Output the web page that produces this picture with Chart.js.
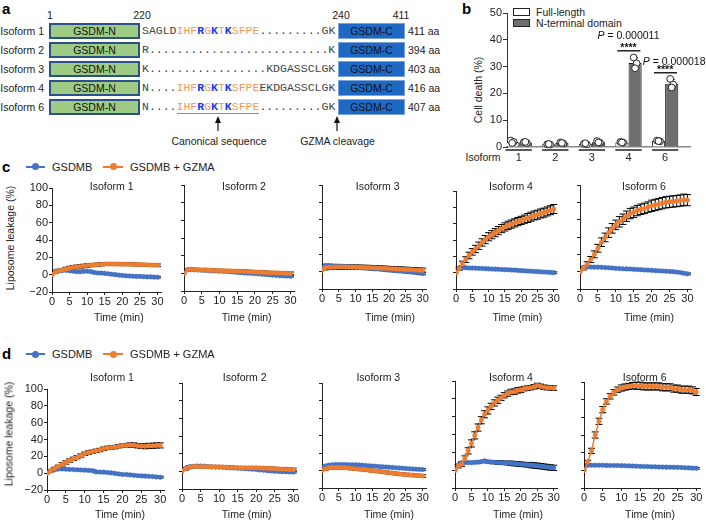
<!DOCTYPE html>
<html>
<head>
<meta charset="utf-8">
<script src="https://cdn.jsdelivr.net/npm/chart.js@4.4.1/dist/chart.umd.min.js"></script>
<style>
  html,body{margin:0;padding:0;background:#fff;}
  body{position:relative;width:706px;height:521px;overflow:hidden;font-family:'Liberation Sans',Arial,Helvetica,sans-serif;font-size:10.5px;color:#222;}
  .t{position:absolute;white-space:nowrap;line-height:13px;}
  canvas{position:absolute;}
  .box{position:absolute;box-sizing:border-box;display:flex;align-items:center;justify-content:center;font-size:10.5px;color:#111;}
  .seq{position:absolute;font-family:'Liberation Mono','DejaVu Sans Mono',monospace;font-size:11.5px;color:#444;white-space:pre;line-height:16px;}
  .mo{color:#F29A55;}
  .mb{color:#1B3BF0;font-weight:bold;}
  .lgl{position:absolute;height:2px;}
  .lgd{position:absolute;width:7px;height:7px;border-radius:50%;}
</style>
</head>
<body>
<script>
// ================= DATA =================
// Panel a: sequence schematic
const seqIsoforms = ['Isoform 1', 'Isoform 2', 'Isoform 3', 'Isoform 4', 'Isoform 6'];
const seqLinkers = [
  'SAGLDIHFRGKTKSFPE.........GK',
  'R..........................K',
  'K.................KDGASSCLGK',
  'N....IHFRGKTKSFPEEKDGASSCLGK',
  'N....IHFRGKTKSFPE.........GK'
];
const seqLengths = ['411 aa', '394 aa', '403 aa', '416 aa', '407 aa'];
const domainPositions = ['1', '220', '240', '411'];
const motif = 'IHFRGKTKSFPE';

// Panel b: cell death (%)
const barIsoforms = ['1', '2', '3', '4', '6'];
const barPos = [1, 2, 3, 4, 5];
const fullLength = [1.9, 1.0, 1.2, 1.7, 2.2];
const nTerminal = [1.7, 1.5, 1.8, 31.3, 23.6];
const fullLengthSd = [0.4, 0.2, 0.2, 0.3, 0.3];
const nTerminalSd = [0.3, 0.3, 0.4, 2.0, 1.6];
const fullLengthReps = [[2.4, 1.9, 1.5], [1.0, 0.9, 1.1], [1.2, 1.0, 1.4], [1.9, 1.6, 1.7], [2.4, 2.1, 2.2]];
const nTerminalReps = [[1.8, 1.5, 1.9], [1.7, 1.3, 1.5], [2.2, 1.6, 1.7], [33.4, 31.2, 29.4], [25.4, 23.3, 22.2]];
const sigGroups = [3, 4];
const sigLineY = [35.9, 27.7];
const sigStars = ['****', '****'];
const pValues = ['0.000011', '0.000018'];

// Panels c, d: liposome leakage (%) over time
const times = [0,1,2,3,4,5,6,7,8,9,10,11,12,13,14,15,16,17,18,19,20,21,22,23,24,25,26,27,28,29,30];
const timeTicks = [0, 5, 10, 15, 20, 25, 30];
const leakageTicks = [-20, 0, 20, 40, 60, 80, 100];
const panelIsoforms = ['Isoform 1', 'Isoform 2', 'Isoform 3', 'Isoform 4', 'Isoform 6'];
const seriesNames = ['GSDMB', 'GSDMB + GZMA'];

const cGsdmb = [
  [0,4,5,5,5,4.5,4,3.5,3.5,3.8,4,3.5,2.5,2,1.8,1.5,1,0.5,0,-0.5,-1,-1.2,-1.5,-1.8,-2,-2,-2.3,-2.5,-2.5,-2.8,-3],
  [0,4,4.2,4,3.8,3.5,3.3,3,2.8,2.6,2.5,2.3,2,1.8,1.5,1,0.8,0.5,0.2,0,-0.3,-0.6,-1,-1.3,-1.6,-2,-2.3,-2.6,-2.8,-3,-3.2],
  [5,7,7,6.8,6.6,6.5,6.3,6,5.8,5.5,5.2,5,4.6,4.3,4,3.6,3.2,3,2.6,2.2,1.8,1.5,1.2,0.8,0.5,0.2,-0.2,-0.6,-1,-1.5,-2],
  [0,6,6.2,6,5.8,5.6,5.5,5.3,5.1,4.9,4.7,4.5,4.3,4.1,3.9,3.7,3.5,3.3,3.1,2.8,2.5,2.3,2,1.8,1.5,1.3,1,0.8,0.5,0.3,0],
  [0,5,5.3,5.3,5.2,5.2,5,4.8,4.5,4.2,3.8,3.6,3.4,3.2,3,2.7,2.5,2.3,2,1.8,1.5,1.2,1,0.8,0.5,0.3,0,-0.5,-1,-1.8,-2.5]
];
const cGzma = [
  [0,3,4.5,5.5,6.5,7.5,8.5,9,9.5,10,10.5,11,11.2,11.5,12,12.2,12.3,12.3,12.2,12.2,12,12,12,11.8,11.8,11.6,11.5,11.4,11.2,11,10.8],
  [0,4,4.5,4.2,4,3.8,4,3.6,3.4,3.2,3,3,2.8,2.8,2.6,2.5,2.3,2.2,2,1.8,1.5,1.4,1.2,1,0.8,0.6,0.5,0.3,0.2,0,0],
  [1.5,4.5,5,5,5.2,5.3,5.3,5.3,5.2,5.2,5.2,5,5,4.8,4.8,4.6,4.4,4.2,4,3.8,3.6,3.4,3.2,3,2.8,2.6,2.4,2.2,2,1.8,1.6],
  [0,5,11,16,21,25.5,29,33,37,40.5,44,46.5,49,51.5,54,56,58,59.5,61,62.5,64,65.5,67,68.5,70,71,72.5,73.5,75,76.5,78],
  [0,4,8.5,14,20,27,34,39.5,45,50,54,57.5,60.5,64,67,68.5,70.5,72,73,74.5,76,77,78,79,80,80.5,81,81.5,82,83,82.5]
];
const cGsdmbSd = [
  [0,1,1,1,1,1,1,1,1,1,1,1,1,1,1,1,1,1,1,1,1,1,1,1,1,1,1,1,1,1,1],
  [0,1,1,1,1,1,1,1,1,1,1,1,1,1,1,1,1,1,1,1,1,1,1,1,1,1,1,1,1,1,1],
  [0,1.5,1.5,1.5,1.5,1.5,1.5,1.5,1.5,1.5,1.5,1.5,1.5,1.5,1.5,1.5,1.5,1.5,1.5,1.5,1.5,1.5,1.5,1.5,1.5,1.5,1.5,1.5,1.5,1.5,1.5],
  [0,1,1,1,1,1,1,1,1,1,1,1,1,1,1,1,1,1,1,1,1,1,1,1,1,1,1,1,1,1,1],
  [0,1,1,1,1,1,1,1,1,1,1,1,1,1,1,1,1,1,1,1,1,1,1,1,1,1,1,1,1,1,1]
];
const cGzmaSd = [
  [0,1,1.5,1.5,2,2,2,2,2,2,2,1.8,1.8,1.8,1.8,1.5,1.5,1.5,1.5,1.5,1.5,1.5,1.5,1.5,1.5,1.5,1.5,1.5,1.5,1.5,1.5],
  [0,1.5,1.5,1.5,1.5,1.5,1.5,1.5,1.5,1.5,1.5,1.5,1.5,1.5,1.5,1.5,1.5,1.5,1.5,1.5,1.5,1.5,1.5,1.5,1.5,1.5,1.5,1.5,1.5,1.5,1.5],
  [0,2.5,2.5,2.5,2.5,2.5,2.5,2.5,2.5,2.5,2.5,2.5,2.5,2.5,2.5,2.5,2.5,2.5,2.5,2.5,2.5,2.5,2.5,2.5,2.5,2.5,2.5,2.5,2.5,2.5,2.5],
  [0,2,3,3.5,4,4,4.5,4.5,4.5,5,5,5,5,5,5,5,5,5,5,5,5,5,5.5,5.5,5.5,5.5,5.5,5.5,5.5,5.5,5.5],
  [0,2,3,3.5,4,4.5,5,5,5.5,5.5,5.5,6,6,6,6,6,6,6,6,6,6.5,6.5,6.5,6.5,6.5,6.5,6.5,6.5,6.5,6.5,6.5]
];

const dGsdmb = [
  [0,2.5,4,5,5,4.8,4.5,4.3,4,3.8,3.6,3.3,3,1.5,1.3,1.2,0.8,0.3,-0.3,-1,-1.6,-1.5,-2,-2.5,-3,-3.2,-3.5,-3.8,-4,-4.5,-4.8],
  [1,3,5,5.5,6,6,5.8,5.5,5.2,5,4.8,4.5,4.2,4,3.8,3.5,3.2,3,2.7,2.4,2,1.6,1.2,0.8,0.4,0,-0.2,-0.4,-0.5,-0.7,-0.8],
  [3,5,6,6.5,6.8,6.8,6.8,6.7,6.6,6.5,6.5,6.3,6,5.7,5.3,5,4.8,4.5,4.2,4,3.8,3.5,3.2,2.9,2.6,2.3,2,1.8,1.5,1.3,1.1],
  [0,5.5,8,8.5,8.5,8.5,8.7,9,9.5,10.4,9.5,9,8.8,8.6,8.4,8.2,8,7.7,7.3,7,6.7,6.3,6,5.7,5.3,4.9,4.5,4,3.5,3,2.6],
  [0,5.7,5.7,5.7,5.7,5.7,5.6,5.5,5.5,5.4,5.3,5.2,5,4.9,4.7,4.5,4.4,4.3,4.1,4,3.8,3.7,3.6,3.5,3.4,3.4,3.2,3,2.8,2.5,2.3]
];
const dGzma = [
  [0,3,5.5,8,10.5,12.7,15,17,19,21,23,24.5,25.5,26.5,27.5,29,30,30.5,31,32,32.7,33,33.5,33.5,32.5,32,32,32.5,32.5,33,33],
  [0.5,3,4.5,5.5,5.5,5.5,5.3,5.2,5,5,5,4.8,4.6,4.4,4.2,4,4,4,4,4,4,3.8,3.6,3.4,3.2,3,2.8,2.6,2.4,2.2,2],
  [0,2,3,3.3,3.5,3.5,3.3,3,2.7,2.3,1.8,1.5,1.2,0.8,0.3,-0.2,-0.6,-1,-1.5,-2,-2.5,-3,-3.5,-4,-4.3,-4.7,-5,-5.3,-5.6,-5.9,-6.2],
  [0,4.5,6.7,13,21.6,30,39,47.8,56,62.7,67,71.6,75.4,78.4,81,84,85.8,87.7,88,89.5,90,91.4,92,92.5,93.5,95,94,93,92.5,92.5,92],
  [0,9.4,22,40,55.5,68.7,78,83.8,88.3,91.3,93.2,94.3,95,95.8,95.8,95.8,95,95,95,95,95,94,94,94,92.5,92.5,91.3,91.3,91.3,90.5,88.7]
];
const dGsdmbSd = [
  [0,1,1,1,1,1,1,1,1,1,1,1,1,1,1,1,1,1,1,1,1,1,1,1,1,1,1,1,1,1,1],
  [0,1,1,1,1,1,1,1,1,1,1,1,1,1,1,1,1,1,1,1,1,1,1,1,1,1,1,1,1,1,1],
  [0,1,1,1,1,1,1,1,1,1,1,1,1,1,1,1,1,1,1,1,1,1,1,1,1,1,1,1,1,1,1],
  [0,1,1,1,1,1,1,1,1,1,1.5,1.5,1.5,2,2,2,2,2.5,2.5,2.5,2.5,2.5,2.5,3,3,3,3,3,3,3,3],
  [0,1,1,1,1,1,1,1,1,1,1,1,1,1,1,1,1,1,1,1,1,1,1,1,1,1,1,1,1,1,1]
];
const dGzmaSd = [
  [0,1,1.5,1.5,2,2,2,2,2,2,2,2,2,2,2,2,2,2,2,2,2,2,2.5,2.5,2.5,2.5,3,3,3,3,3],
  [0,1.5,1.5,1.5,1.5,1.5,1.5,1.5,1.5,1.5,1.5,1.5,1.5,1.5,1.5,1.5,1.5,1.5,1.5,1.5,1.5,1.5,1.5,1.5,1.5,1.5,1.5,1.5,1.5,1.5,1.5],
  [0,1.5,1.5,1.5,1.5,1.5,1.5,1.5,1.5,1.5,1.5,1.5,1.5,1.5,1.5,1.5,1.5,1.5,1.5,1.5,1.5,1.5,1.5,1.5,1.5,1.5,1.5,1.5,1.5,1.5,1.5],
  [0,2,2.5,3,3.5,4,4,4,4,4,4,3.5,3.5,3.5,3,3,3,3,3,3,3,2.5,2.5,2.5,2.5,2.5,2.5,2.5,2.5,2.5,2.5],
  [0,2,3,3.5,3.5,3.5,3,3,3,3,3.5,3.5,3.5,3.5,4,4,4,4,4,4,4,4,4,4,4,4,4,4,4,4,4]
];

// ================= LAYOUT / STYLE =================
const BLUE = '#4472C4', ORANGE = '#ED7D31';
const FONT = "'Liberation Sans', Arial, Helvetica, sans-serif";
Chart.defaults.font.family = FONT;
Chart.defaults.font.size = 11;
Chart.defaults.color = '#222';

function addText(str, x, y, align, opts) {
  opts = opts || {};
  const d = document.createElement('div');
  d.className = 't';
  if (opts.html) d.innerHTML = str; else d.textContent = str;
  d.style.left = x + 'px';
  d.style.top = y + 'px';
  if (opts.size) d.style.fontSize = opts.size + 'px';
  if (opts.bold) d.style.fontWeight = 'bold';
  if (opts.color) d.style.color = opts.color;
  const tx = align === 'left' ? '0' : (align === 'right' ? '-100%' : '-50%');
  d.style.transform = 'translate(' + tx + ',-50%)' + (opts.rotate ? ' rotate(-90deg)' : '');
  document.body.appendChild(d);
  return d;
}
function addDiv(cls, css) {
  const d = document.createElement('div');
  d.className = cls;
  Object.assign(d.style, css);
  document.body.appendChild(d);
  return d;
}

// ---------- Panel a ----------
addText('a', 2, 8, 'left', {size: 15, bold: true, color: '#000'});
const domainPosX = [50, 142, 341, 401];
domainPositions.forEach((p, i) => addText(p, domainPosX[i], 15, 'center'));

function seqHtml(s) {
  const k = s.indexOf(motif);
  if (k < 0) return s;
  let h = s.slice(0, k);
  for (const ch of motif) {
    h += (ch === 'R' || ch === 'K') ? '<span class="mb">' + ch + '</span>' : '<span class="mo">' + ch + '</span>';
  }
  return h + s.slice(k + motif.length);
}
seqIsoforms.forEach((name, i) => {
  const cy = 31 + i * 19.1;
  addText(name, 44, cy, 'right');
  const g = addDiv('box', {left: '49px', top: (cy - 8) + 'px', width: '91px', height: '16px',
    background: '#9DCB84', border: '2px solid #2C4F8E'});
  g.textContent = 'GSDM-N';
  const s = addDiv('seq', {left: '142px', top: (cy - 8) + 'px'});
  s.innerHTML = seqHtml(seqLinkers[i]);
  const b = addDiv('box', {left: '338px', top: (cy - 8) + 'px', width: '67px', height: '16px',
    background: '#1E69C3', border: '1px solid #7BA3D9'});
  b.textContent = 'GSDM-C';
  addText(seqLengths[i], 408, cy, 'left');
});
addDiv('x', {position: 'absolute', left: '177px', top: '112.5px', width: '82px', height: '1.8px', background: '#8a8a8a'});
(function () {
  const ns = 'http://www.w3.org/2000/svg';
  const svg = document.createElementNS(ns, 'svg');
  svg.setAttribute('width', '460'); svg.setAttribute('height', '135');
  svg.style.position = 'absolute'; svg.style.left = '0'; svg.style.top = '0';
  [218, 337].forEach(x => {
    const l = document.createElementNS(ns, 'line');
    l.setAttribute('x1', x); l.setAttribute('x2', x); l.setAttribute('y1', 131); l.setAttribute('y2', 121);
    l.setAttribute('stroke', '#111'); l.setAttribute('stroke-width', '1.2');
    svg.appendChild(l);
    const p = document.createElementNS(ns, 'polygon');
    p.setAttribute('points', (x - 3) + ',123 ' + (x + 3) + ',123 ' + x + ',116');
    p.setAttribute('fill', '#111');
    svg.appendChild(p);
  });
  document.body.appendChild(svg);
})();
addText('Canonical sequence', 219, 141, 'center');
addText('GZMA cleavage', 337.5, 141, 'center');

// ---------- Panel b ----------
addText('b', 462, 8, 'left', {size: 15, bold: true, color: '#000'});
addDiv('x', {position: 'absolute', left: '513px', top: '8px', width: '17px', height: '8px', background: '#fff', border: '1px solid #222', boxSizing: 'border-box'});
addDiv('x', {position: 'absolute', left: '513px', top: '19px', width: '17px', height: '8px', background: '#6e6e6e', border: '1px solid #222', boxSizing: 'border-box'});
addText('Full-length', 536, 12, 'left');
addText('N-terminal domain', 536, 23, 'left');
addText('Cell death (%)', 478, 90, 'center', {rotate: true});
addText('Isoform', 483, 157, 'center');

const barExtras = {
  id: 'barExtras',
  afterDatasetsDraw(chart) {
    const ctx = chart.ctx, ys = chart.scales.y, xs = chart.scales.x;
    ctx.save();
    // error bars
    chart.data.datasets.forEach((ds, di) => {
      const meta = chart.getDatasetMeta(di);
      meta.data.forEach((bar, i) => {
        const v = ds.data[i].y, s = ds.sd[i];
        const yT = ys.getPixelForValue(v + s), yB = ys.getPixelForValue(Math.max(0, v - s));
        ctx.strokeStyle = '#111'; ctx.lineWidth = 1;
        ctx.beginPath();
        ctx.moveTo(bar.x, yT); ctx.lineTo(bar.x, yB);
        ctx.moveTo(bar.x - 3, yT); ctx.lineTo(bar.x + 3, yT);
        ctx.stroke();
      });
    });
    // replicate points
    const jitter = [-1.5, 1.5, 0];
    chart.data.datasets.forEach((ds, di) => {
      const meta = chart.getDatasetMeta(di);
      meta.data.forEach((bar, i) => {
        ds.reps[i].forEach((r, j) => {
          ctx.beginPath();
          ctx.arc(bar.x + jitter[j], ys.getPixelForValue(r), 3.4, 0, Math.PI * 2);
          ctx.fillStyle = '#fff'; ctx.fill();
          ctx.strokeStyle = '#222'; ctx.lineWidth = 1; ctx.stroke();
        });
      });
    });
    // group underlines below axis
    ctx.strokeStyle = '#222'; ctx.lineWidth = 1.5;
    barPos.forEach(p => {
      const y = chart.chartArea.bottom + 3;
      ctx.beginPath();
      ctx.moveTo(xs.getPixelForValue(p - 0.36), y);
      ctx.lineTo(xs.getPixelForValue(p + 0.36), y);
      ctx.stroke();
    });
    // significance annotations
    const mFL = chart.getDatasetMeta(0), mNT = chart.getDatasetMeta(1);
    const pDx = [0, 9], pDy = [12, 8];
    sigGroups.forEach((g, k) => {
      const a = mFL.data[g], b = mNT.data[g];
      const x0 = a.x - a.width * 0.35, x1 = b.x + b.width * 0.4;
      const cx = (a.x + b.x) / 2;
      const y = ys.getPixelForValue(sigLineY[k]);
      ctx.strokeStyle = '#222'; ctx.lineWidth = 1.5;
      ctx.beginPath(); ctx.moveTo(x0, y); ctx.lineTo(x1, y); ctx.stroke();
      ctx.fillStyle = '#111';
      ctx.font = 'bold 10.5px ' + FONT;
      ctx.textAlign = 'center'; ctx.textBaseline = 'alphabetic';
      ctx.fillText(sigStars[k], cx, y + 0.5);
      const rest = ' = ' + pValues[k];
      ctx.font = 'italic 10.5px ' + FONT;
      const wP = ctx.measureText('P').width;
      ctx.font = '10.5px ' + FONT;
      const wR = ctx.measureText(rest).width;
      const left = cx + pDx[k] - (wP + wR) / 2;
      const by = y - pDy[k];
      ctx.textAlign = 'left';
      ctx.font = 'italic 10.5px ' + FONT;
      ctx.fillText('P', left, by);
      ctx.font = '10.5px ' + FONT;
      ctx.fillText(rest, left + wP, by);
    });
    ctx.restore();
  }
};

(function () {
  const cv = document.createElement('canvas');
  cv.width = 246; cv.height = 170;
  cv.style.left = '460px'; cv.style.top = '0px';
  cv.style.width = '246px'; cv.style.height = '170px';
  document.body.appendChild(cv);
  new Chart(cv, {
    type: 'bar',
    data: {
      datasets: [
        {label: 'Full-length', data: barPos.map((p, i) => ({x: p, y: fullLength[i]})), sd: fullLengthSd, reps: fullLengthReps,
         backgroundColor: '#ffffff', borderColor: '#222', borderWidth: 1, categoryPercentage: 0.72, barPercentage: 1},
        {label: 'N-terminal domain', data: barPos.map((p, i) => ({x: p, y: nTerminal[i]})), sd: nTerminalSd, reps: nTerminalReps,
         backgroundColor: '#6e6e6e', borderColor: '#222', borderWidth: 1, categoryPercentage: 0.72, barPercentage: 1}
      ]
    },
    options: {
      responsive: false, animation: false, devicePixelRatio: 1,
      layout: {padding: {top: 13, right: 16, left: 0, bottom: 0}},
      plugins: {legend: {display: false}, tooltip: {enabled: false}},
      scales: {
        x: {type: 'linear', min: 0.68, max: 5.68, offset: false,
            afterBuildTicks: s => { s.ticks = barPos.map(v => ({value: v})); },
            afterFit: s => { s.height = 23; },
            grid: {display: true, drawOnChartArea: false, drawTicks: false, offset: false},
            border: {color: '#888', width: 1.5},
            ticks: {padding: 4, autoSkip: false, maxRotation: 0, color: '#222',
                    callback: v => barIsoforms[barPos.indexOf(v)]}},
        y: {min: 0, max: 50,
            afterFit: s => { s.width = 47; },
            ticks: {stepSize: 10, padding: 1, color: '#222'},
            grid: {drawOnChartArea: false, tickLength: 4, color: '#333'},
            border: {color: '#333', width: 1}}
      }
    },
    plugins: [barExtras]
  });
})();

// ---------- Panels c, d ----------
const errorBarPlugin = {
  id: 'errorBars',
  beforeDatasetsDraw(chart) {
    const ctx = chart.ctx, ys = chart.scales.y;
    ctx.save();
    ctx.strokeStyle = '#000';
    ctx.lineWidth = 1;
    chart.data.datasets.forEach((ds, di) => {
      if (!ds.sd) return;
      const meta = chart.getDatasetMeta(di);
      meta.data.forEach((pt, i) => {
        const s = ds.sd[i];
        if (!s) return;
        const v = ds.data[i].y;
        const yT = ys.getPixelForValue(v + s), yB = ys.getPixelForValue(v - s);
        ctx.beginPath();
        ctx.moveTo(pt.x, yT); ctx.lineTo(pt.x, yB);
        ctx.moveTo(pt.x - 3.5, yT); ctx.lineTo(pt.x + 3.5, yT);
        ctx.moveTo(pt.x - 3.5, yB); ctx.lineTo(pt.x + 3.5, yB);
        ctx.stroke();
      });
    });
    ctx.restore();
  }
};

function makeLineChart(rect, showY, gsdmb, gzma, gsdmbSd, gzmaSd) {
  const yW = showY ? 32 : 8, padTop = 8, padRight = 10, hX = 18, xMax = 31;
  const L = Math.round(rect[0]), T = Math.round(rect[2]);
  const pw = Math.round((rect[1] - rect[0]) * xMax / 30);
  const ph = Math.round(rect[3] - rect[2]);
  const cv = document.createElement('canvas');
  cv.width = yW + pw + padRight; cv.height = padTop + ph + hX;
  cv.style.left = (L - yW) + 'px'; cv.style.top = (T - padTop) + 'px';
  cv.style.width = cv.width + 'px'; cv.style.height = cv.height + 'px';
  document.body.appendChild(cv);
  const mk = (vals, sd, color, label, order) => ({
    label: label, data: times.map((t, i) => ({x: t, y: vals[i]})), sd: sd,
    borderColor: color, backgroundColor: color, pointBackgroundColor: color, pointBorderColor: color,
    pointRadius: 2.3, pointBorderWidth: 0.5, borderWidth: 1.5, tension: 0, order: order
  });
  new Chart(cv, {
    type: 'line',
    data: {datasets: [mk(gzma, gzmaSd, ORANGE, seriesNames[1], 0), mk(gsdmb, gsdmbSd, BLUE, seriesNames[0], 1)]},
    options: {
      responsive: false, animation: false, devicePixelRatio: 1,
      layout: {padding: {top: padTop, right: padRight, left: 0, bottom: 0}},
      plugins: {legend: {display: false}, tooltip: {enabled: false}},
      scales: {
        x: {type: 'linear', min: 0, max: xMax,
            afterBuildTicks: s => { s.ticks = timeTicks.map(v => ({value: v})); },
            afterFit: s => { s.height = hX; },
            grid: {drawOnChartArea: false, drawTicks: true, tickLength: 3, color: '#222'},
            border: {color: '#222', width: 1},
            ticks: {padding: 0, autoSkip: false, maxRotation: 0, color: '#222'}},
        y: {min: -20, max: 100,
            afterBuildTicks: s => { s.ticks = leakageTicks.map(v => ({value: v})); },
            afterFit: s => { s.width = yW; },
            grid: {drawOnChartArea: false, drawTicks: true, tickLength: 3, color: '#222'},
            border: {color: '#222', width: 1},
            ticks: {display: showY, padding: 1, color: '#222',
                    callback: v => v < 0 ? '\u2212' + Math.abs(v) : String(v)}}
      }
    },
    plugins: [errorBarPlugin]
  });
}

function legendRow(y) {
  addDiv('lgl', {left: '26px', top: (y - 1) + 'px', width: '19px', background: BLUE});
  addDiv('lgd', {left: '32px', top: (y - 3.5) + 'px', background: BLUE});
  addText(seriesNames[0], 52, y, 'left', {size: 11});
  addDiv('lgl', {left: '103px', top: (y - 1) + 'px', width: '20px', background: ORANGE});
  addDiv('lgd', {left: '109.5px', top: (y - 3.5) + 'px', background: ORANGE});
  addText(seriesNames[1], 130, y, 'left', {size: 11});
}

const cRects = [[52.3,157.3,188,292],[184.3,291,185,290.7],[321.7,422.7,185,289],[456,553.3,190.7,289],[580,687.7,185,289]];
const dRects = [[46.7,160,389.3,490],[182.3,294,382.7,489],[321.7,422.7,383.3,488.3],[455.3,554,380.7,487.7],[584.3,696.7,382.3,488.3]];
const cTitleX = [111.7, 244, 377.7, 511, 644], dTitleX = [112, 244.7, 378.3, 511, 644.7];
const cTimeX = [118.8, 246.7, 390, 517.3, 649], dTimeX = [120, 246.7, 389, 518, 650];

// panel c
addText('c', 2, 166, 'left', {size: 15, bold: true, color: '#000'});
legendRow(166.7);
for (let i = 0; i < 5; i++) {
  makeLineChart(cRects[i], i === 0, cGsdmb[i], cGzma[i], cGsdmbSd[i], cGzmaSd[i]);
  addText(panelIsoforms[i], cTitleX[i], 185.7, 'center');
  addText('Time (min)', cTimeX[i], 316.7, 'center');
}
addText('Liposome leakage (%)', 10, 238, 'center', {rotate: true});

// panel d
addText('d', 2, 353, 'left', {size: 15, bold: true, color: '#000'});
legendRow(354);
for (let i = 0; i < 5; i++) {
  makeLineChart(dRects[i], i === 0, dGsdmb[i], dGzma[i], dGsdmbSd[i], dGzmaSd[i]);
  addText(panelIsoforms[i], dTitleX[i], 376.7, 'center');
  addText('Time (min)', dTimeX[i], 514, 'center');
}
addText('Liposome leakage (%)', 9, 434, 'center', {rotate: true});
</script>
</body>
</html>
